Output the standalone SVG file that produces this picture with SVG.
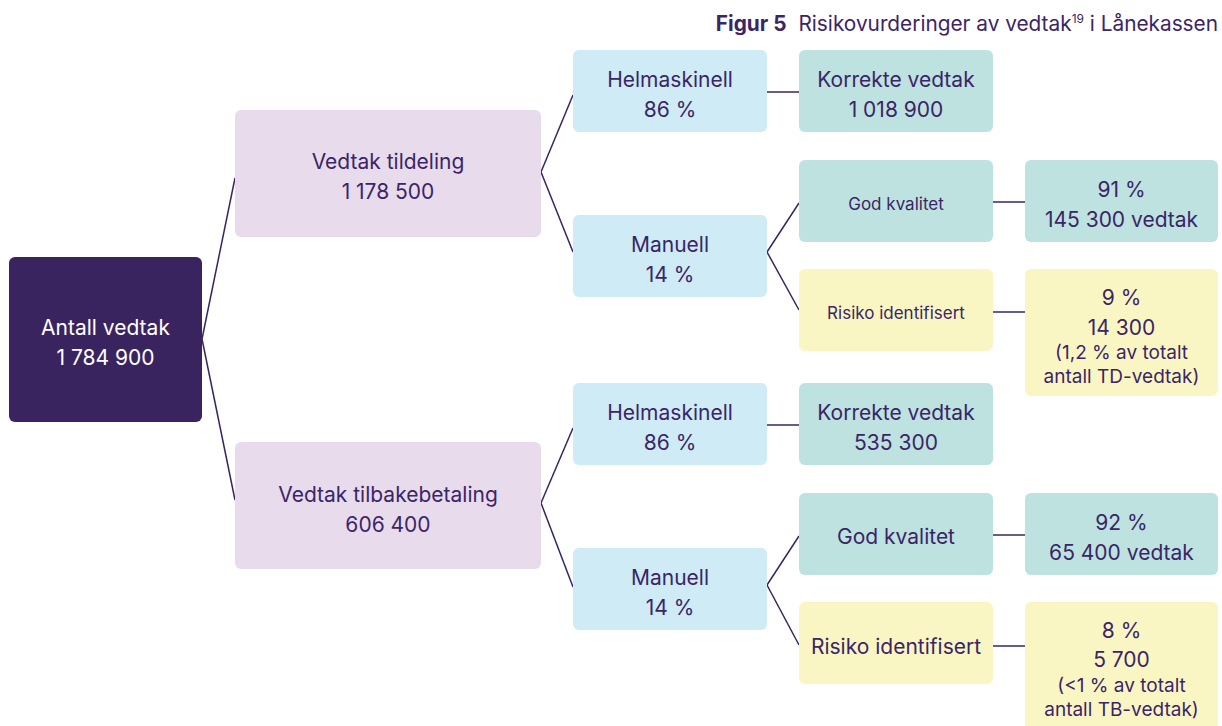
<svg xmlns="http://www.w3.org/2000/svg" width="1222" height="726" viewBox="0 0 1222 726">
<style>
text{font-family:Inter,"Noto Sans",sans-serif;fill:#3b2566;text-anchor:middle;font-size:21px}
.w{fill:#ffffff}
.s{font-size:17px}
.m{font-size:19px}
.lav{fill:#e8dbeb}
.blue{fill:#ceebf6}
.teal{fill:#bde2df}
.yel{fill:#faf6c4}
.root{fill:#3a2460}
.c line{stroke:#3a2460;stroke-width:1.5}
</style>
<rect width="1222" height="726" fill="#ffffff"/>
<g id="title">
<text x="1218" y="31" style="text-anchor:end;font-size:20.8px"><tspan font-weight="bold">Figur 5</tspan><tspan dx="12">Risikovurderinger av vedtak</tspan><tspan font-size="12" dy="-8">19</tspan><tspan dy="8"> i Lånekassen</tspan></text>
</g>
<g class="c" id="connectors">
<line x1="202" y1="339" x2="235" y2="178"/>
<line x1="202" y1="339" x2="235" y2="500"/>
<line x1="541" y1="172" x2="573" y2="95"/>
<line x1="541" y1="172" x2="573" y2="252"/>
<line x1="541" y1="503" x2="573" y2="428"/>
<line x1="541" y1="503" x2="573" y2="587"/>
<line x1="767" y1="92" x2="799" y2="92"/>
<line x1="767" y1="252" x2="799" y2="203"/>
<line x1="767" y1="252" x2="799" y2="310"/>
<line x1="767" y1="425" x2="799" y2="425"/>
<line x1="767" y1="585" x2="799" y2="536"/>
<line x1="767" y1="585" x2="799" y2="645"/>
<line x1="993" y1="202" x2="1025" y2="202"/>
<line x1="993" y1="312" x2="1025" y2="312"/>
<line x1="993" y1="535" x2="1025" y2="535"/>
<line x1="993" y1="646" x2="1025" y2="646"/>
</g>
<g id="root"><rect class="root" x="9" y="257" width="193" height="165" rx="6"/><text class="w" x="105.5" y="335">Antall vedtak</text><text class="w" x="105.5" y="365">1 784 900</text></g>
<g id="tildeling"><rect class="lav" x="235" y="110" width="306" height="127" rx="6"/><text x="388" y="169">Vedtak tildeling</text><text x="388" y="199">1 178 500</text></g>
<g id="tilbakebetaling"><rect class="lav" x="235" y="442" width="306" height="127" rx="6"/><text x="388" y="502">Vedtak tilbakebetaling</text><text x="388" y="532">606 400</text></g>
<g id="helm1"><rect class="blue" x="573" y="50" width="194" height="82" rx="6"/><text x="670" y="87">Helmaskinell</text><text x="670" y="117">86 %</text></g>
<g id="man1"><rect class="blue" x="573" y="215" width="194" height="82" rx="6"/><text x="670" y="252">Manuell</text><text x="670" y="282">14 %</text></g>
<g id="helm2"><rect class="blue" x="573" y="383" width="194" height="82" rx="6"/><text x="670" y="420">Helmaskinell</text><text x="670" y="450">86 %</text></g>
<g id="man2"><rect class="blue" x="573" y="548" width="194" height="82" rx="6"/><text x="670" y="585">Manuell</text><text x="670" y="615">14 %</text></g>
<g id="korr1"><rect class="teal" x="799" y="50" width="194" height="82" rx="6"/><text x="896" y="87">Korrekte vedtak</text><text x="896" y="117">1 018 900</text></g>
<g id="god1"><rect class="teal" x="799" y="160" width="194" height="82" rx="6"/><text class="s" x="896" y="210">God kvalitet</text></g>
<g id="ris1"><rect class="yel" x="799" y="269" width="194" height="82" rx="6"/><text class="s" x="896" y="319">Risiko identifisert</text></g>
<g id="korr2"><rect class="teal" x="799" y="383" width="194" height="82" rx="6"/><text x="896" y="420">Korrekte vedtak</text><text x="896" y="450">535 300</text></g>
<g id="god2"><rect class="teal" x="799" y="493" width="194" height="82" rx="6"/><text x="896" y="544">God kvalitet</text></g>
<g id="ris2"><rect class="yel" x="799" y="602" width="194" height="82" rx="6"/><text x="896" y="654">Risiko identifisert</text></g>
<g id="res91"><rect class="teal" x="1025" y="160" width="193" height="82" rx="6"/><text x="1121.5" y="197">91 %</text><text x="1121.5" y="227">145 300 vedtak</text></g>
<g id="res9"><rect class="yel" x="1025" y="269" width="193" height="127" rx="6"/><text x="1121.5" y="305">9 %</text><text x="1121.5" y="335">14 300</text><text class="m" x="1121.5" y="359">(1,2 % av totalt</text><text class="m" x="1121.5" y="383">antall TD-vedtak)</text></g>
<g id="res92"><rect class="teal" x="1025" y="493" width="193" height="82" rx="6"/><text x="1121.5" y="530">92 %</text><text x="1121.5" y="560">65 400 vedtak</text></g>
<g id="res8"><rect class="yel" x="1025" y="602" width="193" height="130" rx="6"/><text x="1121.5" y="638">8 %</text><text x="1121.5" y="667">5 700</text><text class="m" x="1121.5" y="692">(&lt;1 % av totalt</text><text class="m" x="1121.5" y="716">antall TB-vedtak)</text></g>
</svg>
